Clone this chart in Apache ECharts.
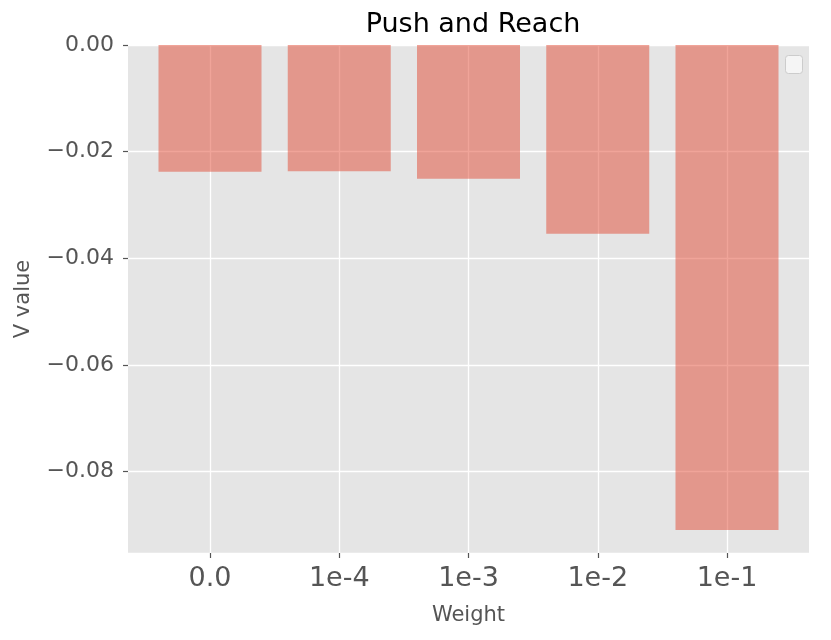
<!DOCTYPE html>
<html>
<head>
<meta charset="utf-8">
<script src="https://cdn.jsdelivr.net/npm/echarts@6/dist/echarts.min.js"></script>
<style>html,body{margin:0;padding:0;background:#fff}#c{width:831px;height:640px}</style>
</head>
<body>
<div id="c"></div>
<script>
const categories = ['0.0', '1e-4', '1e-3', '1e-2', '1e-1'];
const vValues = [-0.0238, -0.0237, -0.0251, -0.0354, -0.0910];
const yMin = -0.0953;
const yMax = 0;

const FONT = 'DejaVu Sans';
const chart = echarts.init(document.getElementById('c'), null, {renderer: 'canvas'});
const fmtY = v => (v < 0 ? '\u2212' : '') + Math.abs(v).toFixed(2);

chart.setOption({
  animation: false,
  backgroundColor: '#ffffff',
  textStyle: {fontFamily: FONT},
  title: {
    text: 'Push and Reach',
    left: 468, top: 6, textAlign: 'center',
    textStyle: {fontFamily: FONT, fontSize: 27, fontWeight: 'normal', color: '#000'}
  },
  grid: [
    {left: 128, top: 45, width: 681, height: 508, show: true, backgroundColor: '#E5E5E5', borderWidth: 0, containLabel: false},
    {left: 210, top: 45, width: 517, height: 508, containLabel: false}
  ],
  xAxis: [
    {gridIndex: 0, type: 'value', min: 0, max: 1, show: false},
    {
      gridIndex: 1, type: 'value', min: 0, max: categories.length - 1, interval: 1,
      position: 'bottom',
      axisLine: {show: true, onZero: false, lineStyle: {color: 'rgba(0,0,0,0)'}},
      axisTick: {show: true, inside: false, length: 5, lineStyle: {color: '#555555', width: 1.2}},
      axisLabel: {formatter: v => categories[v] ?? '', fontSize: 27, color: '#555', margin: 12, fontFamily: FONT},
      splitLine: {show: true, lineStyle: {color: '#fff', width: 1.3}},
      name: 'Weight', nameLocation: 'middle', nameGap: 52,
      nameTextStyle: {fontSize: 21, color: '#555', fontFamily: FONT}
    }
  ],
  yAxis: [
    {
      gridIndex: 0, type: 'value', min: yMin, max: yMax, splitNumber: 5,
      axisLine: {show: true, onZero: false, lineStyle: {color: 'rgba(0,0,0,0)'}},
      axisTick: {show: true, inside: false, length: 5, lineStyle: {color: '#555555', width: 1.2}},
      axisLabel: {formatter: fmtY, showMinLabel: false, fontSize: 22, color: '#555', margin: 14, fontFamily: FONT},
      splitLine: {show: true, lineStyle: {color: '#fff', width: 1.3}},
      name: 'V value', nameLocation: 'middle', nameGap: 94, nameRotate: 90,
      nameTextStyle: {fontSize: 21, color: '#555', fontFamily: FONT}
    },
    {gridIndex: 1, type: 'value', min: yMin, max: yMax, show: false}
  ],
  graphic: [
    {type: 'rect', left: 785, top: 55, shape: {width: 17, height: 18, r: 3},
     style: {fill: 'rgba(255,255,255,0.6)', stroke: '#cccccc', lineWidth: 1}, z: 10}
  ],
  series: [{
    type: 'bar',
    xAxisIndex: 1, yAxisIndex: 1,
    clip: false,
    barWidth: 103,
    data: vValues.map((v, i) => [i, v]),
    itemStyle: {color: '#E24A33', opacity: 0.5}
  }]
});
</script>
</body>
</html>
